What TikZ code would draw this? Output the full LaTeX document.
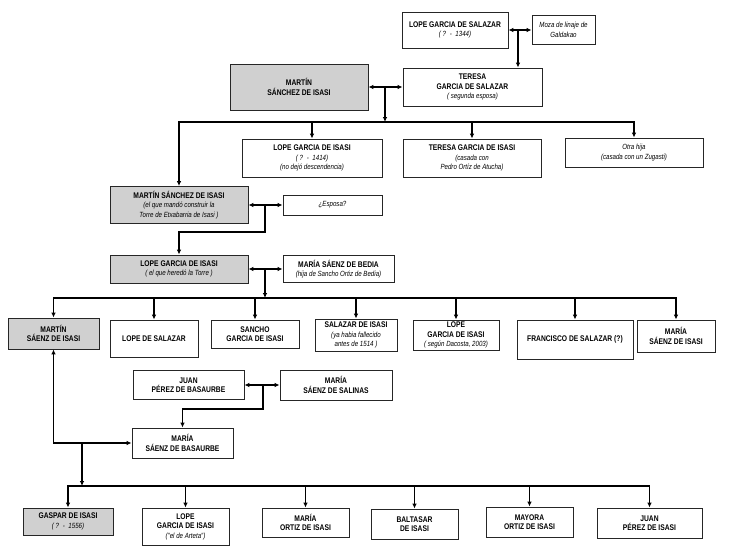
\documentclass[tikz,border=0pt]{standalone}
\usepackage{fontspec}
\setmainfont{Liberation Sans}[FakeStretch=0.82]
\usepackage{tikz}
\usetikzlibrary{arrows.meta}
\definecolor{boxgray}{RGB}{208,208,208}
\newcommand{\subtxt}[1]{{\mdseries\itshape\fontsize{7.5}{9.5}\selectfont #1}}

\begin{document}
\begin{tikzpicture}[x=1pt,y=-1pt,
  box/.style={draw=black!85,line width=0.9pt,fill=white,align=center,inner sep=1pt,
    font=\fontsize{8.2}{9.5}\selectfont\bfseries},
  gbox/.style={box,fill=boxgray},
  link/.style={line width=1.4pt,-{Latex[length=5pt,width=4.6pt]}},
  pair/.style={line width=1.4pt,{Latex[length=5pt,width=4.6pt]}-{Latex[length=5pt,width=4.6pt]}}]
\useasboundingbox (0,0) rectangle (732,554);
%Boxes
\node[box,minimum width=106pt,minimum height=36pt] (lgs) at (455,30) {LOPE GARCIA DE SALAZAR\\\subtxt{( ? \ - \ 1344)}};
\node[box,minimum width=63pt,minimum height=29pt] (moza) at (563.5,30) {\subtxt{Moza de linaje de}\\\subtxt{Galdakao}};
\node[gbox,minimum width=138pt,minimum height=46pt] (msi1) at (299,87) {MARTÍN\\SÁNCHEZ DE ISASI};
\node[box,minimum width=139pt,minimum height=38pt] (tgs) at (472.5,87) {TERESA\\GARCIA DE SALAZAR\\\subtxt{( segunda esposa)}};
\node[box,minimum width=140pt,minimum height=38pt] (lgi1) at (312,158) {LOPE GARCIA DE ISASI\\\subtxt{( ? \ - \ 1414)}\\\subtxt{(no dejó descendencia)}};
\node[box,minimum width=138pt,minimum height=38pt] (tgi) at (472,158) {TERESA GARCIA DE ISASI\\\subtxt{(casada con}\\\subtxt{Pedro Ortíz de Atucha)}};
\node[box,minimum width=138pt,minimum height=29pt] (otra) at (634,152.5) {\subtxt{Otra hija}\\\subtxt{(casada con un Zugasti)}};
\node[gbox,minimum width=138pt,minimum height=37pt] (msi2) at (179,205) {MARTÍN SÁNCHEZ DE ISASI\\\subtxt{(el que mandó construir la}\\\subtxt{Torre de Etxabarria de Isasi )}};
\node[box,minimum width=99pt,minimum height=20pt] (esp) at (332.5,205) {\subtxt{¿Esposa?}};
\node[gbox,minimum width=138pt,minimum height=28pt] (lgi2) at (179,269) {LOPE GARCIA DE ISASI\\\subtxt{( el que heredó la Torre )}};
\node[box,minimum width=111pt,minimum height=27pt] (msb) at (338.5,269) {MARÍA SÁENZ DE BEDIA\\\subtxt{(hija de Sancho Ortiz de Bedia)}};
\node[gbox,minimum width=91pt,minimum height=31pt] (msi3) at (53.5,333.5) {MARTÍN\\SÁENZ DE ISASI};
\node[box,minimum width=88pt,minimum height=37pt] (lds) at (154,338.5) {LOPE DE SALAZAR};
\node[box,minimum width=88pt,minimum height=28pt] (sgi) at (255,334) {SANCHO\\GARCIA DE ISASI};
\node[box,minimum width=82pt,minimum height=32pt] (sdi) at (356,335) {SALAZAR DE ISASI\\\subtxt{(ya habia fallecido}\\\subtxt{antes de 1514 )}};
\node[box,minimum width=86pt,minimum height=30pt] (lgi3) at (456,335) {LOPE\\GARCIA DE ISASI\\\subtxt{( según Dacosta, 2003)}};
\node[box,minimum width=116pt,minimum height=39pt] (fds) at (575,339.5) {FRANCISCO DE SALAZAR (?)};
\node[box,minimum width=78pt,minimum height=32pt] (msi4) at (676,336) {MARÍA\\SÁENZ DE ISASI};
\node[box,minimum width=111pt,minimum height=29pt] (jpb) at (188.5,385) {JUAN\\PÉREZ DE BASAURBE};
\node[box,minimum width=112pt,minimum height=30pt] (mss) at (336,385) {MARÍA\\SÁENZ DE SALINAS};
\node[box,minimum width=101pt,minimum height=30pt] (msb2) at (182.5,443) {MARÍA\\SÁENZ DE BASAURBE};
\node[gbox,minimum width=90pt,minimum height=27pt] (gdi) at (68,521.5) {GASPAR DE ISASI\\\subtxt{( ? \ - \ 1556)}};
\node[box,minimum width=87pt,minimum height=37pt] (lgi4) at (185.5,526.5) {LOPE\\GARCIA DE ISASI\\\subtxt{("el de Arteta")}};
\node[box,minimum width=87pt,minimum height=29pt] (moi) at (305.5,522.5) {MARÍA\\ORTIZ DE ISASI};
\node[box,minimum width=87pt,minimum height=30pt] (bdi) at (414.5,524) {BALTASAR\\DE ISASI};
\node[box,minimum width=87pt,minimum height=30pt] (myoi) at (529.5,522) {MAYORA\\ORTIZ DE ISASI};
\node[box,minimum width=105pt,minimum height=30pt] (jpi) at (649.5,523) {JUAN\\PÉREZ DE ISASI};
%Lines
\coordinate (m0) at (518,30);
\draw[pair] (lgs) -- (moza);
\draw[link] (m0) -- (m0 |- tgs.north);
\coordinate (m1) at (385,87);
\coordinate (j1) at (385,122);
\draw[pair] (msi1) -- (tgs);
\draw[link] (m1) -- (j1);
\foreach \kid in {msi2,lgi1,tgi,otra} \draw[link] (j1) -| (\kid.north);
\coordinate (m2) at (265,205);
\draw[pair] (msi2) -- (esp);
\draw[link] (m2) -- ++(0,27) -| (lgi2.north);
\coordinate (m3) at (265,269);
\coordinate (j3) at (265,298);
\draw[pair] (lgi2) -- (msb);
\draw[link] (m3) -- (j3);
\foreach \kid in {msi3,lds,sgi,sdi,lgi3,fds,msi4} \draw[link] (j3) -| (\kid.north);
\coordinate (m4) at (263,385);
\draw[pair] (jpb) -- (mss);
\draw[link] (m4) -- ++(0,24) -| (msb2.north);
\draw[pair] (msi3.south) |- (msb2.west);
\coordinate (m5) at (82,443);
\coordinate (j5) at (82,486);
\draw[link] (m5) -- (j5);
\foreach \kid in {gdi,lgi4,moi,bdi,myoi,jpi} \draw[link] (j5) -| (\kid.north);
\end{tikzpicture}
\end{document}
